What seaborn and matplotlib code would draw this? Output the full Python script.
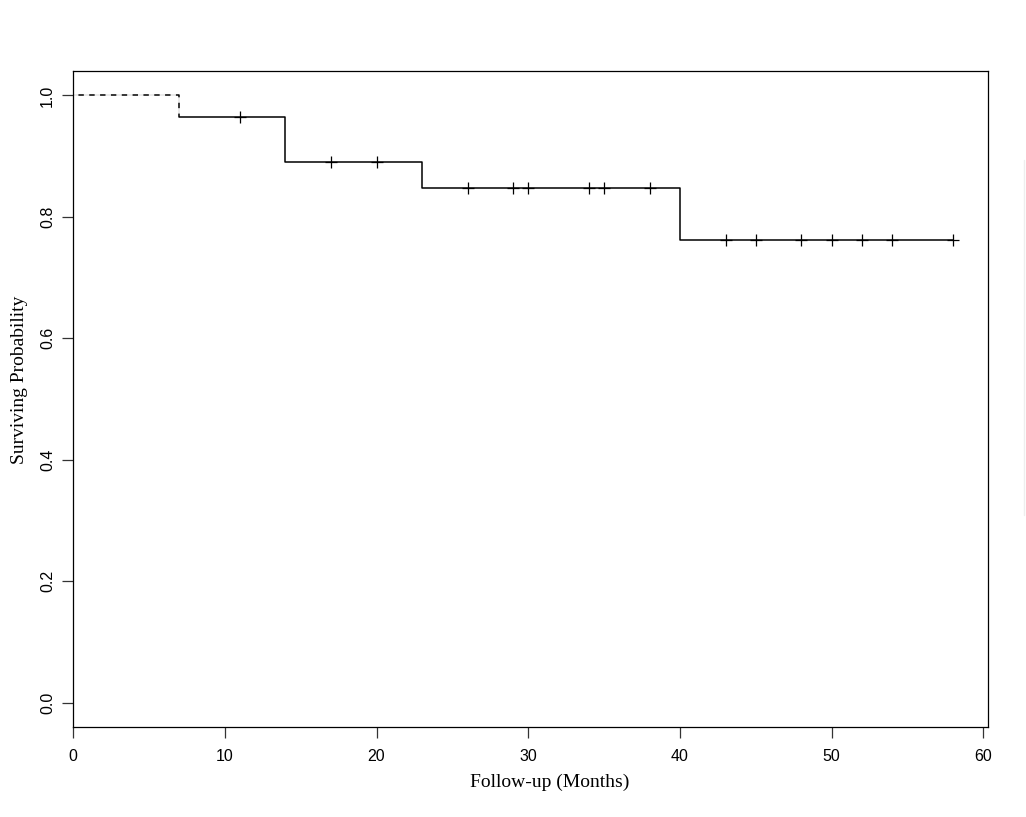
import seaborn as sns
import numpy as np
import pandas as pd
import matplotlib
matplotlib.use("Agg")
import matplotlib.pyplot as plt

# step curve (event times and survival after each event)
step_time = [0, 7, 14, 23, 40, 58]
step_surv = [1.0, 0.964, 0.890, 0.847, 0.762, 0.762]

# censored observations
cens_time = [11, 17, 20, 26, 29, 30, 34, 35, 38, 43, 45, 48, 50, 52, 54, 58]
cens_surv = [0.964, 0.890, 0.890, 0.847, 0.847, 0.847, 0.847, 0.847, 0.847,
             0.762, 0.762, 0.762, 0.762, 0.762, 0.762, 0.762]

xticks = [0, 10, 20, 30, 40, 50, 60]
yticks = [0.0, 0.2, 0.4, 0.6, 0.8, 1.0]

sns.set_style("white")
plt.rcParams["font.family"] = ["Liberation Sans", "DejaVu Sans"]
plt.rcParams["text.color"] = "black"
plt.rcParams["axes.labelcolor"] = "black"

steps = pd.DataFrame({"time": step_time, "surv": step_surv})
cens = pd.DataFrame({"time": cens_time, "surv": cens_surv})

fig = plt.figure(figsize=(10.26, 8.17), dpi=100)
ax = fig.add_axes([0.0712, 0.110, 0.8918, 0.803])

sns.lineplot(data=steps, x="time", y="surv", drawstyle="steps-post",
             color="black", linewidth=1.1, ax=ax, estimator=None)
# first segment drawn dashed on top
sns.lineplot(data=steps.iloc[:2], x="time", y="surv", drawstyle="steps-post",
             color="white", linewidth=1.3, linestyle=(0, (3, 3)), ax=ax, estimator=None)
sns.scatterplot(data=cens, x="time", y="surv", marker="+", s=80,
                color="black", linewidth=0.9, ax=ax, zorder=3)

ax.set_xlim(0, 60.3)
ax.set_ylim(-0.04, 1.04)
ax.set_xticks(xticks)
ax.set_xticklabels([str(t) for t in xticks], fontsize=11.5)
ax.set_yticks(yticks)
ax.set_yticklabels([f"{t:.1f}" for t in yticks], rotation=90, va="center", fontsize=11.5)
ax.tick_params(axis="both", direction="out", length=8, width=0.9, color="#333333",
               labelcolor="black", left=True, bottom=True)
ax.tick_params(axis="x", pad=8)
ax.tick_params(axis="y", pad=5)
for sp in ax.spines.values():
    sp.set_color("black")
    sp.set_linewidth(0.9)

ax.set_xlabel("Follow-up (Months)", family=["Liberation Serif", "DejaVu Serif"],
              fontsize=14)
ax.set_ylabel("Surviving Probability", family=["Liberation Serif", "DejaVu Serif"],
              fontsize=14)
ax.xaxis.set_label_coords(0.521, -0.071)
ax.yaxis.set_label_coords(-0.049, 0.529)

fig.add_artist(plt.Line2D([0.9985, 0.9985], [1 - 160 / 817, 1 - 515 / 817],
                          color="#eeeeee", linewidth=1))

fig.savefig("out.png", dpi=100)
